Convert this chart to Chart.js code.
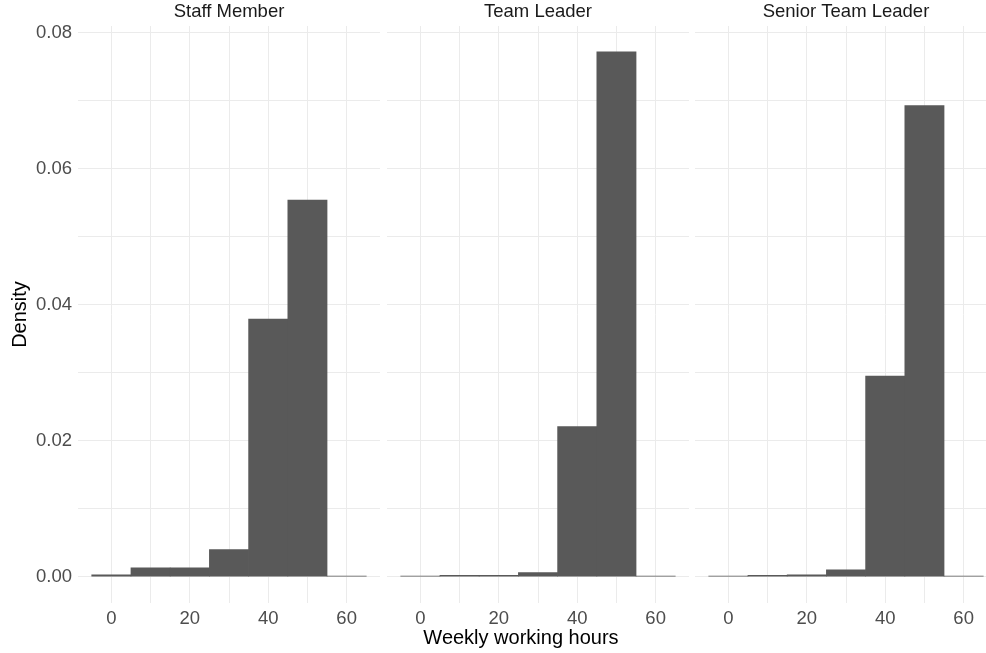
<!DOCTYPE html>
<html>
<head>
<meta charset="utf-8">
<title>Weekly working hours by role</title>
<script src="https://cdn.jsdelivr.net/npm/chart.js@4.4.0/dist/chart.umd.min.js"></script>
<style>
  html, body { margin: 0; padding: 0; background: #fff; overflow: hidden; }
  #wrap { position: relative; width: 986px; height: 653px; overflow: hidden; }
  #wrap canvas { position: absolute; top: 0; }
  #xtitle {
    position: absolute; left: 321px; width: 400px; top: 626px;
    text-align: center; font: 20px/22px "Liberation Sans", Arial, sans-serif; color: #000;
  }
</style>
</head>
<body>
<div id="wrap">
  <canvas id="staff" width="380" height="653" style="left:0px"></canvas>
  <canvas id="leader" width="302" height="653" style="left:387px"></canvas>
  <canvas id="senior" width="302" height="653" style="left:695px"></canvas>
  <div id="xtitle">Weekly working hours</div>
</div>
<script>
// histogram bins, 10 hours wide, centred on these values
var binCenters = [0, 10, 20, 30, 40, 50, 60];
var roles = ['Staff Member', 'Team Leader', 'Senior Team Leader'];
var staffDensity  = [0.0003, 0.0013, 0.0013, 0.0040, 0.0379, 0.0554, 0.0001];
var leaderDensity = [0.0001, 0.0002, 0.0002, 0.0006, 0.0221, 0.0772, 0.0001];
var seniorDensity = [0.0001, 0.0002, 0.0003, 0.0010, 0.0295, 0.0693, 0.0001];
var xGrid = [0, 10, 20, 30, 40, 50, 60];
var xLabelled = [0, 20, 40, 60];
var yGrid = [0, 0.01, 0.02, 0.03, 0.04, 0.05, 0.06, 0.07, 0.08];
var yLabelled = [0, 0.02, 0.04, 0.06, 0.08];

var FONT = '"Liberation Sans", Arial, Helvetica, sans-serif';
var TICK_SIZE = 18.5;

// facet label drawn above each panel's plotting area
var stripLabel = {
  id: 'stripLabel',
  afterDraw: function(chart, args, opts) {
    var a = chart.chartArea, ctx = chart.ctx;
    ctx.save();
    ctx.font = TICK_SIZE + 'px ' + FONT;
    ctx.fillStyle = '#1a1a1a';
    ctx.textAlign = 'center';
    ctx.textBaseline = 'middle';
    ctx.fillText(opts.text, (a.left + a.right) / 2, 12);
    ctx.restore();
  }
};

function panel(id, title, values, first) {
  var pts = binCenters.map(function(x, i) { return { x: x, y: values[i] }; });
  return new Chart(document.getElementById(id), {
    type: 'bar',
    data: {
      datasets: [{
        data: pts,
        backgroundColor: '#595959',
        borderWidth: 0,
        barPercentage: 1,
        categoryPercentage: 1
      }]
    },
    plugins: [stripLabel],
    options: {
      responsive: false,
      animation: false,
      events: [],
      layout: { padding: { top: 26, left: 0, right: 0, bottom: 0 } },
      plugins: {
        legend: { display: false },
        tooltip: { enabled: false },
        stripLabel: { text: title }
      },
      scales: {
        x: {
          type: 'linear',
          min: -8.5,
          max: 68.5,
          offset: false,
          afterBuildTicks: function(s) { s.ticks = xGrid.map(function(v) { return { value: v }; }); },
          afterFit: function(s) { s.height = 50; },
          ticks: {
            autoSkip: false,
            maxRotation: 0,
            padding: 5,
            color: '#4d4d4d',
            font: { family: FONT, size: TICK_SIZE },
            callback: function(v) { return xLabelled.indexOf(v) >= 0 ? String(v) : ''; }
          },
          grid: { color: '#ebebeb', lineWidth: 1, drawTicks: false, offset: false },
          border: { display: false }
        },
        y: {
          min: -0.00386,
          max: 0.0810,
          afterBuildTicks: function(s) { s.ticks = yGrid.map(function(v) { return { value: v }; }); },
          afterFit: function(s) { s.width = first ? 78 : 0; },
          ticks: {
            display: first,
            padding: 6,
            color: '#4d4d4d',
            font: { family: FONT, size: TICK_SIZE },
            callback: function(v) {
              for (var i = 0; i < yLabelled.length; i++) {
                if (Math.abs(v - yLabelled[i]) < 1e-9) return v.toFixed(2);
              }
              return '';
            }
          },
          grid: { color: '#ebebeb', lineWidth: 1, drawTicks: false, offset: false },
          border: { display: false },
          title: {
            display: first,
            text: 'Density',
            color: '#000',
            font: { family: FONT, size: 20 },
            padding: { top: 8, bottom: 4 }
          }
        }
      }
    }
  });
}

panel('staff', roles[0], staffDensity, true);
panel('leader', roles[1], leaderDensity, false);
panel('senior', roles[2], seniorDensity, false);
</script>
</body>
</html>
